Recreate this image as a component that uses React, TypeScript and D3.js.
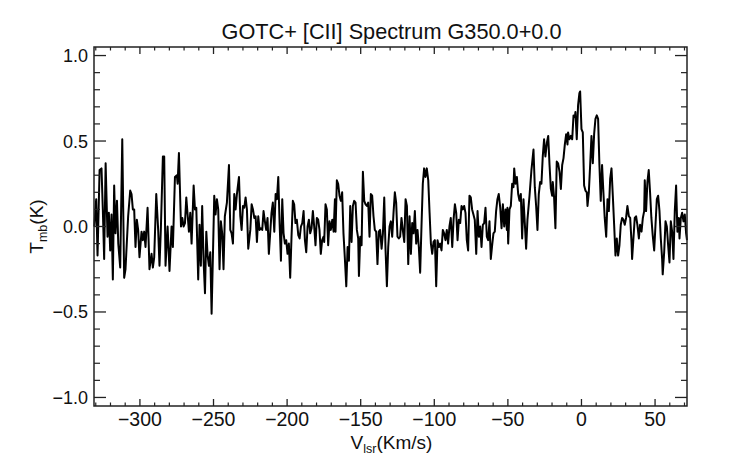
import * as d3 from "d3";

const title = "GOTC+ [CII] Spectrum G350.0+0.0";

// [V_lsr (km/s), T_mb (K)]
const spectrum: [number, number][] = [
  [-331, 0], [-329.7, 0.16], [-328.8, -0.17], [-327.4, 0.33], [-326.1, 0.34], [-325.2, 0.1],
  [-324.3, -0.19], [-323.3, 0.37], [-322.0, -0.06], [-321.1, 0.08], [-320.2, -0.14], [-319.3, 0.07],
  [-318.4, -0.31], [-317.5, 0.24], [-316.6, -0.04], [-315.6, 0.15], [-314.7, -0.1], [-313.4, -0.24],
  [-312.0, 0.51], [-310.7, -0.3], [-309.8, -0.25], [-308.0, 0.06], [-306.6, 0.21], [-305.7, 0.19],
  [-304.8, 0.1], [-303.9, 0.1], [-303.0, -0.12], [-302.1, 0.04], [-301.2, -0.02], [-300.3, -0.18],
  [-298.9, -0.03], [-298.0, -0.08], [-297.1, -0.03], [-296.2, -0.12], [-294.8, 0.11], [-293.5, -0.25],
  [-292.1, -0.16], [-291.2, -0.24], [-290.3, -0.18], [-288.9, 0.19], [-287.6, -0.02], [-286.7, -0.23],
  [-285.8, -0.02], [-284.4, 0.41], [-283.5, 0.41], [-282.6, -0.23], [-281.2, 0], [-279.9, -0.26],
  [-278.5, 0], [-277.6, -0.12], [-276.2, 0.29], [-274.9, 0.3], [-274.4, 0.25], [-273.5, 0.43],
  [-272.1, 0.0], [-271.2, 0.05], [-270.3, 0.0], [-269.4, 0.02], [-268.5, 0.17], [-267.6, 0.07],
  [-266.7, -0.03], [-265.8, 0.08], [-264.9, -0.1], [-263.5, 0.24], [-262.6, 0.1], [-261.7, 0.11],
  [-260.4, -0.31], [-259.5, 0.01], [-258.6, -0.23], [-257.7, 0.12], [-256.7, -0.21], [-255.8, -0.39],
  [-254.9, -0.03], [-254.0, -0.17], [-253.1, -0.23], [-252.2, -0.15], [-251.3, -0.51], [-250.4, -0.17],
  [-249.5, 0.18], [-248.6, 0.07], [-247.7, 0.16], [-246.8, 0.1], [-245.9, -0.25], [-245.0, 0.03],
  [-244.1, -0.04], [-243.2, -0.25], [-242.3, 0.06], [-240.9, 0.14], [-239.5, 0.36], [-238.6, -0.02],
  [-237.7, -0.04], [-236.8, -0.1], [-235.9, 0.19], [-235.0, 0.1], [-234.1, 0.19], [-232.7, 0.29],
  [-231.8, 0.06], [-230.9, -0.02], [-230.0, 0.12], [-229.1, 0.11], [-228.2, 0.17], [-227.3, 0.1],
  [-226.4, -0.13], [-225.0, -0.02], [-224.1, 0.13], [-223.2, 0.1], [-222.3, 0.05], [-221.4, 0.06],
  [-220.5, -0.09], [-219.6, 0.06], [-218.7, -0.02], [-217.8, -0.01], [-216.9, -0.02], [-216.0, 0.09],
  [-215.1, 0.03], [-214.2, -0.02], [-213.3, 0.05], [-212.4, -0.16], [-211.5, -0.04], [-210.6, 0.08],
  [-209.7, 0.14], [-208.7, -0.03], [-207.8, 0.19], [-206.9, 0.16], [-206.0, 0.29], [-205.1, 0.02],
  [-204.2, -0.2], [-203.3, 0.16], [-202.4, -0.04], [-201.5, -0.1], [-200.6, -0.08], [-199.7, -0.16],
  [-198.8, -0.1], [-197.9, -0.3], [-197.0, -0.06], [-196.1, 0.15], [-195.2, 0.13], [-194.3, 0.02],
  [-193.4, 0.04], [-192.4, -0.05], [-191.5, -0.07], [-190.6, 0.0], [-189.7, 0.02], [-188.8, 0.09],
  [-187.9, -0.08], [-187.0, -0.15], [-186.1, 0.0], [-185.2, 0.04], [-184.3, -0.04], [-183.4, -0.01],
  [-182.5, 0.09], [-181.6, 0.0], [-180.7, -0.11], [-179.8, 0.05], [-178.9, 0.04], [-178.0, -0.02],
  [-177.1, -0.16], [-176.2, -0.08], [-175.3, -0.06], [-174.8, -0.09], [-173.9, 0.13], [-173.0, 0.1],
  [-172.1, -0.11], [-171.2, 0.03], [-170.3, -0.02], [-169.3, 0.04], [-168.4, -0.03], [-167.5, 0.16],
  [-167.1, -0.03], [-166.2, 0.27], [-165.3, 0.25], [-164.4, 0.18], [-163.5, 0.15], [-162.6, 0.2],
  [-161.7, -0.04], [-160.8, -0.18], [-159.8, -0.35], [-158.9, -0.12], [-158.0, -0.2], [-157.1, 0.12],
  [-156.2, -0.09], [-155.3, 0.12], [-154.4, 0.15], [-153.5, 0.14], [-152.6, -0.02], [-151.7, -0.07],
  [-151.2, -0.29], [-150.3, -0.06], [-149.4, -0.11], [-148.5, 0.32], [-147.6, 0.15], [-146.7, 0.13],
  [-145.8, 0.12], [-144.9, 0.14], [-144.0, -0.06], [-143.1, 0.19], [-142.2, 0.18], [-141.3, 0.06],
  [-140.4, -0.02], [-139.5, -0.03], [-138.6, -0.22], [-137.7, -0.03], [-136.8, -0.02], [-135.8, -0.13],
  [-134.9, -0.04], [-134.0, 0.17], [-133.1, -0.14], [-132.2, -0.35], [-131.3, -0.12], [-130.4, 0.0],
  [-129.5, 0.03], [-128.6, -0.06], [-127.7, 0.08], [-126.8, 0.2], [-125.9, 0.14], [-125.0, -0.06],
  [-124.1, -0.07], [-123.2, -0.06], [-122.3, 0.05], [-121.4, -0.02], [-120.4, -0.09], [-119.5, 0.16],
  [-118.6, 0.12], [-117.7, -0.22], [-116.8, 0.06], [-115.9, -0.16], [-115.0, 0.02], [-114.1, -0.04],
  [-113.2, 0.09], [-112.3, -0.1], [-111.4, -0.02], [-110.5, -0.12], [-109.6, -0.27], [-108.7, 0.0],
  [-107.8, 0.25], [-106.9, 0.34], [-106.0, 0.29], [-105.1, 0.34], [-104.1, 0.27], [-103.2, 0.08],
  [-102.3, -0.1], [-101.4, -0.16], [-100.5, -0.09], [-99.6, -0.08], [-98.7, -0.35], [-97.8, -0.08],
  [-96.9, -0.12], [-96.0, -0.1], [-95.1, -0.14], [-94.2, -0.02], [-93.3, -0.04], [-92.4, -0.08],
  [-91.5, -0.02], [-90.6, -0.1], [-89.7, 0.0], [-88.8, 0.05], [-87.8, -0.12], [-86.9, 0.04],
  [-86.0, 0.13], [-85.1, 0.08], [-84.2, -0.08], [-83.3, 0.04], [-82.4, 0.02], [-81.5, 0.12],
  [-80.6, 0.1], [-79.7, 0.12], [-78.8, 0.08], [-77.9, -0.08], [-77.0, -0.14], [-76.1, 0.18],
  [-75.2, 0.17], [-74.3, 0.1], [-73.4, 0.07], [-72.5, 0.04], [-71.5, -0.16], [-70.6, 0.09],
  [-69.7, -0.06], [-68.8, 0.0], [-67.9, -0.12], [-67.0, 0.01], [-66.1, 0.02], [-65.2, 0.11],
  [-64.3, -0.06], [-63.4, -0.08], [-62.5, 0.03], [-61.6, -0.19], [-60.7, -0.11], [-59.8, -0.04],
  [-58.9, -0.03], [-58.0, 0.09], [-57.1, 0.16], [-56.2, 0.19], [-55.2, 0.11], [-54.3, -0.01],
  [-53.4, 0.13], [-52.5, 0.0], [-51.6, 0.1], [-50.7, -0.02], [-50.3, 0.11], [-49.8, -0.1],
  [-48.9, 0.1], [-48.0, 0.12], [-47.1, 0.25], [-46.2, 0.23], [-45.7, 0.34], [-44.8, 0.25],
  [-43.9, 0.29], [-43.0, 0.19], [-42.1, 0.15], [-41.2, 0.19], [-40.3, -0.07], [-39.4, 0.16],
  [-38.5, 0.02], [-37.6, -0.13], [-36.7, 0.04], [-35.3, 0.18], [-34.0, 0.33], [-32.6, 0.45],
  [-31.7, 0.23], [-30.8, 0.12], [-29.9, -0.02], [-29.0, 0.19], [-28.1, 0.26], [-27.2, 0.25],
  [-26.3, 0.41], [-25.4, 0.51], [-24.5, 0.41], [-23.5, 0.49], [-22.6, 0.53], [-21.7, 0.36],
  [-20.8, 0.22], [-19.9, 0.18], [-19.5, 0.26], [-18.6, 0.17], [-17.7, -0.01], [-16.8, 0.38],
  [-15.9, 0.37], [-14.9, 0.32], [-14.0, 0.22], [-13.1, 0.36], [-12.2, 0.4], [-11.3, 0.48],
  [-10.4, 0.54], [-9.5, 0.48], [-9.1, 0.55], [-8.2, 0.51], [-7.2, 0.53], [-6.3, 0.51],
  [-5.4, 0.65], [-4.5, 0.64], [-4.1, 0.67], [-3.2, 0.51], [-2.3, 0.71], [-1.4, 0.78],
  [-0.9, 0.79], [0.0, 0.57], [0.9, 0.55], [1.8, 0.24], [2.7, 0.21], [3.6, 0.2],
  [4.1, 0.12], [5.0, 0.2], [5.9, 0.36], [6.8, 0.53], [7.7, 0.37], [8.6, 0.54],
  [9.5, 0.63], [10.4, 0.65], [11.3, 0.63], [12.2, 0.36], [13.1, 0.15], [14.0, 0.36],
  [14.9, 0.2], [15.8, 0.05], [16.8, -0.06], [17.7, 0.16], [18.6, 0.09], [19.5, 0.28],
  [20.4, 0.34], [21.3, 0.18], [22.2, 0.01], [23.1, -0.17], [24.0, -0.07], [24.9, -0.17],
  [25.8, -0.11], [26.7, 0.01], [27.6, 0.05], [28.5, 0.04], [29.4, 0.01], [30.3, 0.05],
  [31.2, 0.12], [32.2, 0.06], [33.1, 0.05], [34.0, -0.09], [34.4, -0.19], [35.3, -0.07],
  [36.2, 0.05], [37.1, 0.06], [38.0, 0.01], [39.0, -0.07], [39.8, 0.01], [40.8, -0.03],
  [41.7, 0.05], [42.6, 0.09], [43.0, 0.27], [43.9, 0.09], [44.8, 0.26], [45.7, 0.33],
  [46.6, 0.2], [47.5, 0.05], [48.4, -0.05], [49.4, -0.14], [50.3, 0.01], [51.2, 0.16],
  [52.1, 0.18], [53.0, 0.09], [53.9, -0.07], [54.8, -0.19], [55.2, -0.28], [56.2, -0.15],
  [57.1, 0.03], [58.0, 0.0], [58.9, -0.11], [59.8, -0.21], [60.7, 0.03], [61.6, -0.03],
  [62.5, -0.19], [63.4, 0.09], [64.3, 0.24], [65.2, -0.03], [66.1, 0.05], [66.6, -0.07],
  [67.5, 0.05], [68.4, 0.08], [69.3, 0.03], [70.2, 0.07], [71.1, -0.04], [71.7, -0.08],
];

const xMajorTicks = [-300, -250, -200, -150, -100, -50, 0, 50];
const yMajorTicks = [-1.0, -0.5, 0.0, 0.5, 1.0];

const W = 742;
const H = 464;
const margin = { left: 94, right: 55, top: 47, bottom: 58 };
const font = "'Liberation Sans', Arial, Helvetica, sans-serif";
const axisColor = "#222";

const fmtY = (d: number) => d.toFixed(1).replace("-", "\u2212");
const fmtX = (d: number) => String(d).replace("-", "\u2212");

export default function App() {
  const x = d3
    .scaleLinear()
    .domain([-331.2, 71.7])
    .range([margin.left, W - margin.right]);
  const y = d3
    .scaleLinear()
    .domain([-1.05, 1.05])
    .range([H - margin.bottom, margin.top]);

  const [x0, x1] = x.range();
  const [y0, y1] = y.range(); // y0 bottom, y1 top

  const xMinor = d3.range(-330, 71, 10).filter((v) => v % 50 !== 0);
  const yMinor = d3.range(-10, 11).map((k) => k / 10).filter((v) => Math.round(v * 10) % 5 !== 0);

  const xMajLen = 7;
  const xMinLen = 3.5;
  const yMajLen = 12;
  const yMinLen = 6;

  const line = d3
    .line<[number, number]>()
    .x((d) => x(d[0]))
    .y((d) => y(d[1]));

  return (
    <svg
      width={W}
      height={H}
      viewBox={`0 0 ${W} ${H}`}
      style={{ position: "absolute", left: 0, top: 0, background: "#fff" }}
      fontFamily={font}
    >
      <rect width={W} height={H} fill="#fff" />

      <text x={(x0 + x1) / 2 + 1} y={39} textAnchor="middle" fontSize={21.7} fill="#111">
        {title}
      </text>

      <path d={line(spectrum) ?? ""} fill="none" stroke="#000" strokeWidth={2} strokeLinejoin="round" />

      {/* frame */}
      <rect x={x0} y={y1} width={x1 - x0} height={y0 - y1} fill="none" stroke={axisColor} strokeWidth={1.5} />

      {/* x ticks bottom/top */}
      {xMajorTicks.map((v) => (
        <g key={`xM${v}`} stroke={axisColor} strokeWidth={1.3}>
          <line x1={x(v)} x2={x(v)} y1={y0} y2={y0 - xMajLen} />
          <line x1={x(v)} x2={x(v)} y1={y1} y2={y1 + xMajLen} />
        </g>
      ))}
      {xMinor.map((v) => (
        <g key={`xm${v}`} stroke={axisColor} strokeWidth={1.2}>
          <line x1={x(v)} x2={x(v)} y1={y0} y2={y0 - xMinLen} />
          <line x1={x(v)} x2={x(v)} y1={y1} y2={y1 + xMinLen} />
        </g>
      ))}

      {/* y ticks left/right */}
      {yMajorTicks.map((v) => (
        <g key={`yM${v}`} stroke={axisColor} strokeWidth={1.3}>
          <line x1={x0} x2={x0 + yMajLen} y1={y(v)} y2={y(v)} />
          <line x1={x1} x2={x1 - yMajLen} y1={y(v)} y2={y(v)} />
        </g>
      ))}
      {yMinor.map((v) => (
        <g key={`ym${v}`} stroke={axisColor} strokeWidth={1.2}>
          <line x1={x0} x2={x0 + yMinLen} y1={y(v)} y2={y(v)} />
          <line x1={x1} x2={x1 - yMinLen} y1={y(v)} y2={y(v)} />
        </g>
      ))}

      {/* tick labels */}
      {xMajorTicks.map((v) => (
        <text key={`xl${v}`} x={x(v)} y={y0 + 20} textAnchor="middle" fontSize={19.5} fill="#111">
          {fmtX(v)}
        </text>
      ))}
      {yMajorTicks.map((v) => (
        <text key={`yl${v}`} x={x0 - 6} y={y(v)} dy="0.36em" textAnchor="end" fontSize={18} fill="#111">
          {fmtY(v)}
        </text>
      ))}

      {/* axis titles */}
      <text x={(x0 + x1) / 2 + 1} y={y0 + 43} textAnchor="middle" fontSize={19} fill="#111">
        V<tspan fontSize={12.5} dy={4}>lsr</tspan>
        <tspan dy={-4}>(Km/s)</tspan>
      </text>
      <text
        transform={`translate(43, ${(y0 + y1) / 2}) rotate(-90)`}
        textAnchor="middle"
        fontSize={19}
        fill="#111"
      >
        T<tspan fontSize={12.5} dy={4}>mb</tspan>
        <tspan dy={-4}>(K)</tspan>
      </text>
    </svg>
  );
}
